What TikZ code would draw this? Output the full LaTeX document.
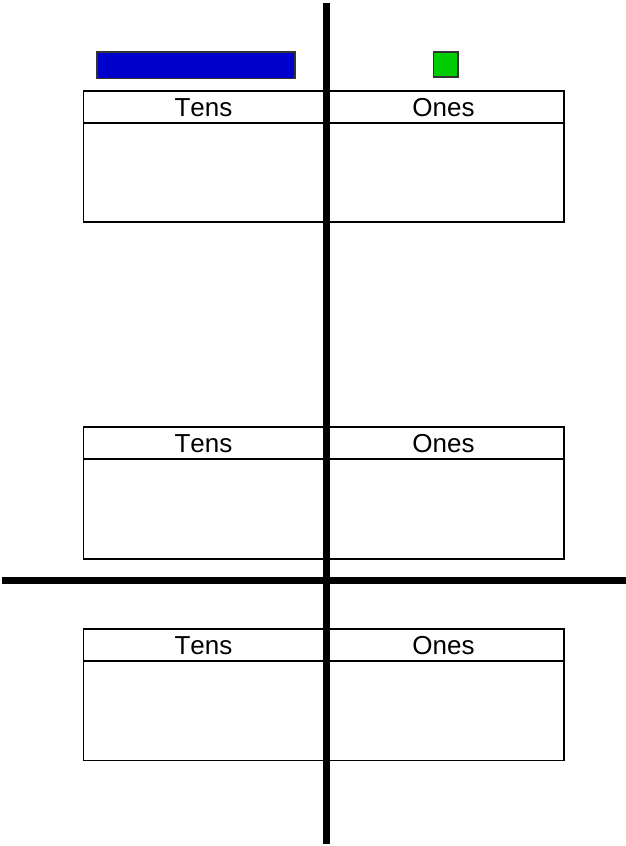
\documentclass[tikz,border=0pt]{standalone}
\usepackage{fontspec}
\setmainfont[Kerning=Off]{Liberation Sans}
\definecolor{tenblue}{HTML}{0000CC}
\definecolor{onegreen}{HTML}{00CC00}
\definecolor{edgegray}{HTML}{333333}
\begin{document}
\begin{tikzpicture}[x=1pt,y=-1pt,
  tablebox/.style={draw=black,line width=1.7pt},
  headtext/.style={font=\fontsize{26}{30}\selectfont,anchor=base,inner sep=0pt},
  bigline/.style={draw=black,line width=7.5pt},
  block/.style={draw=edgegray,line width=1.2pt}]
\useasboundingbox (0,0) rectangle (626,846);
% manipulatives
\filldraw[block,fill=tenblue] (97,52) rectangle (295,78.5);
\filldraw[block,fill=onegreen] (433.5,52) rectangle (458,77);
% place value tables
\foreach \t/\n in {90.7/a,427.3/b,629/c}{
  \draw[tablebox] (83.5,\t) rectangle (564,\t+131.5);
  \draw[tablebox] (83.5,\t+32) -- (564,\t+32);
  \draw[tablebox] (326.5,\t) -- (326.5,\t+131.5);
  \node[headtext] (tens\n) at (203.5,\t+25.5) {Tens};
  \node[headtext] (ones\n) at (443.5,\t+25.5) {Ones};
}
% thick dividing lines
\coordinate (vtop) at (326.5,3);
\coordinate (vbot) at (326.5,844);
\coordinate (hleft) at (2,580.5);
\coordinate (hright) at (626,580.5);
\draw[bigline] (vtop) -- (vbot);
\draw[bigline,line width=7pt] (hleft) -- (hright);
\end{tikzpicture}
\end{document}
